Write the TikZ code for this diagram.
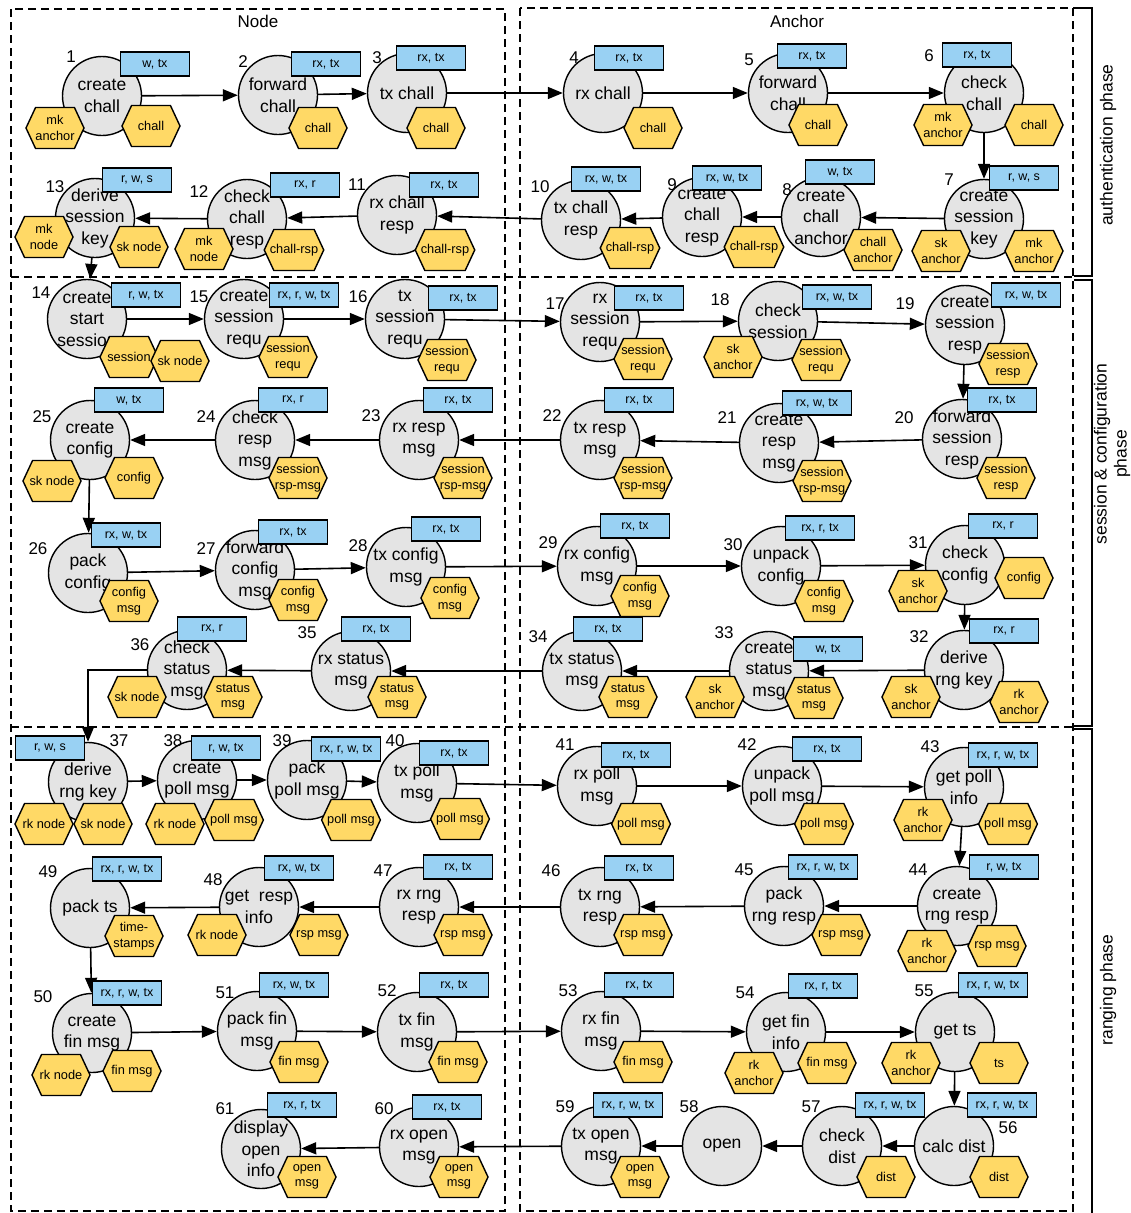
\documentclass[tikz,border=0pt]{standalone}
\usepackage{fontspec}
\setmainfont{Liberation Sans}
\usetikzlibrary{arrows.meta,shapes.symbols}
\definecolor{stepgray}{RGB}{228,228,228}
\definecolor{flagblue}{RGB}{153,209,243}
\definecolor{dataamber}{RGB}{255,217,102}

\begin{document}
\begin{tikzpicture}[
  x=1pt,y=-1pt,
  stage/.style={circle,draw,fill=stepgray,line width=1.4pt,minimum size=79pt,inner sep=-12pt,align=center,font=\fontsize{17.5}{21.5}\selectfont},
  flag/.style={rectangle,draw,fill=flagblue,line width=1.4pt,minimum width=69pt,minimum height=24pt,inner sep=0pt,font=\fontsize{12.5}{14}\selectfont},
  datum/.style={signal,signal to=east and west,signal pointer angle=130,draw,fill=dataamber,line width=1.4pt,minimum width=58pt,minimum height=41pt,inner xsep=-4pt,inner ysep=0pt,align=center,font=\fontsize{12.8}{15.5}\selectfont},
  num/.style={font=\fontsize{17}{20}\selectfont,inner sep=0pt},
  coltitle/.style={font=\fontsize{17}{20}\selectfont,inner sep=0pt},
  phaselabel/.style={rotate=90,align=center,font=\fontsize{17.5}{20}\selectfont,inner sep=0pt},
  zone/.style={dash pattern=on 8pt off 5pt,line width=1.4pt},
  phasebar/.style={line width=1.4pt},
  flow/.style={-{Triangle[length=15pt,width=12pt]},line width=1.6pt}]
\useasboundingbox (0,0) rectangle (1131,1213);

% columns and phases
\draw[zone] (11,9) rectangle (505,1211);
\draw[zone] (520,8) rectangle (1073,1211);
\draw[zone] (11,277) -- (1073,277);
\draw[zone] (11,727) -- (1073,727);
\draw[phasebar] (1073,8) -- (1092,8) -- (1092,276) -- (1074,276);
\draw[phasebar] (1074,280) -- (1092,280) -- (1092,726) -- (1074,726);
\draw[phasebar] (1074,729) -- (1092,729) -- (1092,1213);
\node[coltitle] (colnode) at (258,21) {Node};
\node[coltitle] (colanchor) at (797,21) {Anchor};
\node[phaselabel] (ph1) at (1108,145) {authentication phase};
\node[phaselabel] (ph2) at (1112,454) {session \& configuration\\phase};
\node[phaselabel] (ph3) at (1108,990) {ranging phase};

% steps
\node[stage] (n1) at (102,96) {create\\chall};
\node[stage] (n2) at (278,95) {forward\\chall};
\node[stage] (n3) at (407,93) {tx chall};
\node[stage] (n4) at (603,93) {rx chall};
\node[stage] (n5) at (788,93) {forward\\chall};
\node[stage] (n6) at (984,93) {check\\chall};
\node[stage] (n7) at (984,219) {create\\session\\key};
\node[stage] (n8) at (821,217) {create\\chall\\anchor};
\node[stage] (n9) at (702,217) {create\\chall\\resp};
\node[stage] (n10) at (581,220) {tx chall\\resp};
\node[stage] (n11) at (397,215) {rx chall\\resp};
\node[stage] (n12) at (247,219) {check\\chall\\resp};
\node[stage] (n13) at (95,218) {derive\\session\\key};
\node[stage] (n14) at (87,319) {create\\start\\session};
\node[stage] (n15) at (244,319) {create\\session\\requ};
\node[stage] (n16) at (405,319) {tx\\session\\requ};
\node[stage] (n17) at (600,322) {rx\\session\\requ};
\node[stage] (n18) at (778,321) {check\\session};
\node[stage] (n19) at (965,325) {create\\session\\resp};
\node[stage] (n20) at (962,439) {forward\\session\\resp};
\node[stage] (n21) at (779,443) {create\\resp\\msg};
\node[stage] (n22) at (600,440) {tx resp\\msg};
\node[stage] (n23) at (419,440) {rx resp\\msg};
\node[stage] (n24) at (255,440) {check\\resp\\msg};
\node[stage] (n25) at (90,440) {create\\config};
\node[stage] (n26) at (88,573) {pack\\config};
\node[stage] (n27) at (255,570) {forward\\config\\msg};
\node[stage] (n28) at (406,567) {tx config\\msg};
\node[stage] (n29) at (597,566) {rx config\\msg};
\node[stage] (n30) at (781,566) {unpack\\config};
\node[stage] (n31) at (965,565) {check\\config};
\node[stage] (n32) at (964,670) {derive\\rng key};
\node[stage] (n33) at (769,671) {create\\status\\msg};
\node[stage] (n34) at (582,671) {tx status\\msg};
\node[stage] (n35) at (351,671) {rx status\\msg};
\node[stage] (n36) at (187,670) {check\\status\\msg};
\node[stage] (n37) at (88,782) {derive\\rng key};
\node[stage] (n38) at (197,780) {create\\poll msg};
\node[stage] (n39) at (307,780) {pack\\poll msg};
\node[stage] (n40) at (417,783) {tx poll\\msg};
\node[stage] (n41) at (597,786) {rx poll\\msg};
\node[stage] (n42) at (782,786) {unpack\\poll msg};
\node[stage] (n43) at (964,787) {get poll\\info};
\node[stage] (n44) at (957,906) {create\\rng resp};
\node[stage] (n45) at (784,906) {pack\\rng resp};
\node[stage] (n46) at (600,907) {tx rng\\resp};
\node[stage] (n47) at (419,907) {rx rng\\resp};
\node[stage] (n48) at (259,907) {get\ \ resp\\info};
\node[stage] (n49) at (90,908) {pack ts};
\node[stage] (n50) at (92,1033) {create\\fin msg};
\node[stage] (n51) at (257,1031) {pack fin\\msg};
\node[stage] (n52) at (417,1032) {tx fin\\msg};
\node[stage] (n53) at (601,1031) {rx fin\\msg};
\node[stage] (n54) at (786,1032) {get fin\\info};
\node[stage] (n55) at (955,1032) {get ts};
\node[stage] (n56) at (954,1146) {calc dist};
\node[stage] (n57) at (842,1146) {check\\dist};
\node[stage] (n58) at (722,1146) {open};
\node[stage] (n59) at (601,1146) {tx open\\msg};
\node[stage] (n60) at (419,1147) {rx open\\msg};
\node[stage] (n61) at (261,1149) {display\\open\\info};

% flow
\draw[flow] (n1) -- (n2);
\draw[flow] (n2) -- (n3);
\draw[flow] (n3) -- (n4);
\draw[flow] (n4) -- (n5);
\draw[flow] (n5) -- (n6);
\draw[flow] (n6) -- (n7);
\draw[flow] (n7) -- (n8);
\draw[flow] (n8) -- (n9);
\draw[flow] (n9) -- (n10);
\draw[flow] (n10) -- (n11);
\draw[flow] (n11) -- (n12);
\draw[flow] (n12) -- (n13);
\draw[flow] (n13) -- (n14);
\draw[flow] (n14) -- (n15);
\draw[flow] (n15) -- (n16);
\draw[flow] (n16) -- (n17);
\draw[flow] (n17) -- (n18);
\draw[flow] (n18) -- (n19);
\draw[flow] (n19) -- (n20);
\draw[flow] (n20) -- (n21);
\draw[flow] (n21) -- (n22);
\draw[flow] (n22) -- (n23);
\draw[flow] (n23) -- (n24);
\draw[flow] (n24) -- (n25);
\draw[flow] (n25) -- (n26);
\draw[flow] (n26) -- (n27);
\draw[flow] (n27) -- (n28);
\draw[flow] (n28) -- (n29);
\draw[flow] (n29) -- (n30);
\draw[flow] (n30) -- (n31);
\draw[flow] (n31) -- (n32);
\draw[flow] (n32) -- (n33);
\draw[flow] (n33) -- (n34);
\draw[flow] (n34) -- (n35);
\draw[flow] (n35) -- (n36);
\draw[flow] (n36.west) -| (n37.north);
\draw[flow] (n37) -- (n38);
\draw[flow] (n38) -- (n39);
\draw[flow] (n39) -- (n40);
\draw[flow] (n40) -- (n41);
\draw[flow] (n41) -- (n42);
\draw[flow] (n42) -- (n43);
\draw[flow] (n43) -- (n44);
\draw[flow] (n44) -- (n45);
\draw[flow] (n45) -- (n46);
\draw[flow] (n46) -- (n47);
\draw[flow] (n47) -- (n48);
\draw[flow] (n48) -- (n49);
\draw[flow] (n49) -- (n50);
\draw[flow] (n50) -- (n51);
\draw[flow] (n51) -- (n52);
\draw[flow] (n52) -- (n53);
\draw[flow] (n53) -- (n54);
\draw[flow] (n54) -- (n55);
\draw[flow] (n55) -- (n56);
\draw[flow] (n56) -- (n57);
\draw[flow] (n57) -- (n58);
\draw[flow] (n58) -- (n59);
\draw[flow] (n59) -- (n60);
\draw[flow] (n60) -- (n61);

% access flags
\node[flag] (f1) at (155,64) {w, tx};
\node[flag] (f2) at (326,64) {rx, tx};
\node[flag] (f3) at (431,58) {rx, tx};
\node[flag] (f4) at (629,58) {rx, tx};
\node[flag] (f5) at (812,56) {rx, tx};
\node[flag] (f6) at (977,55) {rx, tx};
\node[flag] (f7) at (1024,178) {r, w, s};
\node[flag] (f8) at (840,172) {w, tx};
\node[flag] (f9) at (727,178) {rx, w, tx};
\node[flag] (f10) at (606,179) {rx, w, tx};
\node[flag] (f11) at (444,185) {rx, tx};
\node[flag] (f12) at (305,185) {rx, r};
\node[flag] (f13) at (137,180) {r, w, s};
\node[flag] (f14) at (146,295) {r, w, tx};
\node[flag] (f15) at (304,295) {rx, r, w, tx};
\node[flag] (f16) at (463,298) {rx, tx};
\node[flag] (f17) at (649,298) {rx, tx};
\node[flag] (f18) at (837,297) {rx, w, tx};
\node[flag] (f19) at (1026,295) {rx, w, tx};
\node[flag] (f20) at (1002,400) {rx, tx};
\node[flag] (f21) at (817,403) {rx, w, tx};
\node[flag] (f22) at (639,400) {rx, tx};
\node[flag] (f23) at (458,400) {rx, tx};
\node[flag] (f24) at (293,400) {rx, r};
\node[flag] (f25) at (129,400) {w, tx};
\node[flag] (f26) at (126,535) {rx, w, tx};
\node[flag] (f27) at (293,532) {rx, tx};
\node[flag] (f28) at (446,529) {rx, tx};
\node[flag] (f29) at (635,526) {rx, tx};
\node[flag] (f30) at (820,528) {rx, r, tx};
\node[flag] (f31) at (1003,526) {rx, r};
\node[flag] (f32) at (1004,631) {rx, r};
\node[flag] (f33) at (828,649) {w, tx};
\node[flag] (f34) at (608,629) {rx, tx};
\node[flag] (f35) at (376,629) {rx, tx};
\node[flag] (f36) at (212,629) {rx, r};
\node[flag] (f37) at (50,748) {r, w, s};
\node[flag] (f38) at (226,748) {r, w, tx};
\node[flag] (f39) at (346,749) {rx, r, w, tx};
\node[flag] (f40) at (454,753) {rx, tx};
\node[flag] (f41) at (636,755) {rx, tx};
\node[flag] (f42) at (827,749) {rx, tx};
\node[flag] (f43) at (1003,755) {rx, r, w, tx};
\node[flag] (f44) at (1004,867) {r, w, tx};
\node[flag] (f45) at (823,867) {rx, r, w, tx};
\node[flag] (f46) at (639,868) {rx, tx};
\node[flag] (f47) at (458,867) {rx, tx};
\node[flag] (f48) at (299,868) {rx, w, tx};
\node[flag] (f49) at (127,869) {rx, r, w, tx};
\node[flag] (f50) at (127,993) {rx, r, w, tx};
\node[flag] (f51) at (294,985) {rx, w, tx};
\node[flag] (f52) at (454,985) {rx, tx};
\node[flag] (f53) at (639,985) {rx, tx};
\node[flag] (f54) at (823,986) {rx, r, tx};
\node[flag] (f55) at (993,985) {rx, r, w, tx};
\node[flag] (f56) at (1002,1105) {rx, r, w, tx};
\node[flag] (f57) at (890,1105) {rx, r, w, tx};
\node[flag] (f59) at (628,1105) {rx, r, w, tx};
\node[flag] (f60) at (447,1107) {rx, tx};
\node[flag] (f61) at (302,1105) {rx, r, tx};

% data items
\node[datum] (d1a) at (55,128) {mk\\anchor};
\node[datum] (d1b) at (151,126) {chall};
\node[datum] (d2) at (318,128) {chall};
\node[datum] (d3) at (436,128) {chall};
\node[datum] (d4) at (653,128) {chall};
\node[datum] (d5) at (818,125) {chall};
\node[datum] (d6a) at (943,125) {mk\\anchor};
\node[datum] (d6b) at (1034,125) {chall};
\node[datum] (d7a) at (941,251) {sk\\anchor};
\node[datum] (d7b) at (1034,251) {mk\\anchor};
\node[datum] (d8) at (873,250) {chall\\anchor};
\node[datum] (d9) at (754,247) {chall-rsp};
\node[datum] (d10) at (630,248) {chall-rsp};
\node[datum] (d11) at (445,250) {chall-rsp};
\node[datum] (d12a) at (204,249) {mk\\node};
\node[datum] (d12b) at (294,250) {chall-rsp};
\node[datum] (d13a) at (44,237) {mk\\node};
\node[datum] (d13b) at (139,247) {sk node};
\node[datum] (d14a) at (129,357) {session};
\node[datum] (d14b) at (180,361) {sk node};
\node[datum] (d15) at (288,357) {session\\requ};
\node[datum] (d16) at (447,360) {session\\requ};
\node[datum] (d17) at (643,359) {session\\requ};
\node[datum] (d18a) at (733,357) {sk\\anchor};
\node[datum] (d18b) at (821,360) {session\\requ};
\node[datum] (d19) at (1008,364) {session\\resp};
\node[datum] (d20) at (1006,478) {session\\resp};
\node[datum] (d21) at (822,481) {session\\rsp-msg};
\node[datum] (d22) at (643,478) {session\\rsp-msg};
\node[datum] (d23) at (463,478) {session\\rsp-msg};
\node[datum] (d24) at (298,478) {session\\rsp-msg};
\node[datum] (d25a) at (52,481) {sk node};
\node[datum] (d25b) at (134,478) {config};
\node[datum] (d26) at (129,601) {config\\msg};
\node[datum] (d27) at (298,600) {config\\msg};
\node[datum] (d28) at (450,598) {config\\msg};
\node[datum] (d29) at (640,596) {config\\msg};
\node[datum] (d30) at (824,601) {config\\msg};
\node[datum] (d31a) at (918,591) {sk\\anchor};
\node[datum] (d31b) at (1024,578) {config};
\node[datum] (d32a) at (911,697) {sk\\anchor};
\node[datum] (d32b) at (1019,702) {rk\\anchor};
\node[datum] (d33a) at (715,697) {sk\\anchor};
\node[datum] (d33b) at (814,698) {status\\msg};
\node[datum] (d34) at (628,697) {status\\msg};
\node[datum] (d35) at (397,697) {status\\msg};
\node[datum] (d36a) at (137,697) {sk node};
\node[datum] (d36b) at (233,697) {status\\msg};
\node[datum] (d37a) at (44,824) {rk node};
\node[datum] (d37b) at (103,824) {sk node};
\node[datum] (d38a) at (175,824) {rk node};
\node[datum] (d38b) at (234,820) {poll msg};
\node[datum] (d39) at (351,820) {poll msg};
\node[datum] (d40) at (460,819) {poll msg};
\node[datum] (d41) at (641,824) {poll msg};
\node[datum] (d42) at (824,824) {poll msg};
\node[datum] (d43a) at (923,820) {rk\\anchor};
\node[datum] (d43b) at (1008,824) {poll msg};
\node[datum] (d44a) at (927,951) {rk\\anchor};
\node[datum] (d44b) at (997,946) {rsp msg};
\node[datum] (d45) at (841,935) {rsp msg};
\node[datum] (d46) at (643,935) {rsp msg};
\node[datum] (d47) at (463,935) {rsp msg};
\node[datum] (d48a) at (217,935) {rk node};
\node[datum] (d48b) at (319,935) {rsp msg};
\node[datum] (d49) at (134,936) {time-\\stamps};
\node[datum] (d50a) at (61,1075) {rk node};
\node[datum] (d50b) at (132,1071) {fin msg};
\node[datum] (d51) at (299,1062) {fin msg};
\node[datum] (d52) at (458,1062) {fin msg};
\node[datum] (d53) at (643,1062) {fin msg};
\node[datum] (d54a) at (754,1073) {rk\\anchor};
\node[datum] (d54b) at (827,1063) {fin msg};
\node[datum] (d55a) at (911,1063) {rk\\anchor};
\node[datum] (d55b) at (999,1063) {ts};
\node[datum] (d56) at (999,1177) {dist};
\node[datum] (d57) at (886,1177) {dist};
\node[datum] (d59) at (640,1177) {open\\msg};
\node[datum] (d60) at (459,1177) {open\\msg};
\node[datum] (d61) at (307,1177) {open\\msg};

% step numbers
\node[num] (k1) at (71,57) {1};
\node[num] (k2) at (243,62) {2};
\node[num] (k3) at (377,58) {3};
\node[num] (k4) at (574,58) {4};
\node[num] (k5) at (749,60) {5};
\node[num] (k6) at (929,56) {6};
\node[num] (k7) at (949,180) {7};
\node[num] (k8) at (787,190) {8};
\node[num] (k9) at (672,185) {9};
\node[num] (k10) at (540,187) {10};
\node[num] (k11) at (357,185) {11};
\node[num] (k12) at (199,192) {12};
\node[num] (k13) at (55,187) {13};
\node[num] (k14) at (41,293) {14};
\node[num] (k15) at (199,297) {15};
\node[num] (k16) at (358,297) {16};
\node[num] (k17) at (555,304) {17};
\node[num] (k18) at (720,300) {18};
\node[num] (k19) at (905,304) {19};
\node[num] (k20) at (904,418) {20};
\node[num] (k21) at (727,418) {21};
\node[num] (k22) at (552,416) {22};
\node[num] (k23) at (371,416) {23};
\node[num] (k24) at (206,417) {24};
\node[num] (k25) at (42,417) {25};
\node[num] (k26) at (38,549) {26};
\node[num] (k27) at (206,549) {27};
\node[num] (k28) at (358,546) {28};
\node[num] (k29) at (548,543) {29};
\node[num] (k30) at (733,545) {30};
\node[num] (k31) at (918,543) {31};
\node[num] (k32) at (919,637) {32};
\node[num] (k33) at (724,633) {33};
\node[num] (k34) at (538,637) {34};
\node[num] (k35) at (307,633) {35};
\node[num] (k36) at (140,645) {36};
\node[num] (k37) at (119,741) {37};
\node[num] (k38) at (173,741) {38};
\node[num] (k39) at (282,741) {39};
\node[num] (k40) at (395,741) {40};
\node[num] (k41) at (565,745) {41};
\node[num] (k42) at (747,745) {42};
\node[num] (k43) at (930,747) {43};
\node[num] (k44) at (918,870) {44};
\node[num] (k45) at (744,870) {45};
\node[num] (k46) at (551,871) {46};
\node[num] (k47) at (383,871) {47};
\node[num] (k48) at (213,880) {48};
\node[num] (k49) at (48,872) {49};
\node[num] (k50) at (43,997) {50};
\node[num] (k51) at (225,993) {51};
\node[num] (k52) at (387,991) {52};
\node[num] (k53) at (568,991) {53};
\node[num] (k54) at (745,993) {54};
\node[num] (k55) at (924,991) {55};
\node[num] (k56) at (1008,1128) {56};
\node[num] (k57) at (811,1107) {57};
\node[num] (k58) at (689,1107) {58};
\node[num] (k59) at (565,1107) {59};
\node[num] (k60) at (384,1109) {60};
\node[num] (k61) at (225,1109) {61};
\end{tikzpicture}
\end{document}
